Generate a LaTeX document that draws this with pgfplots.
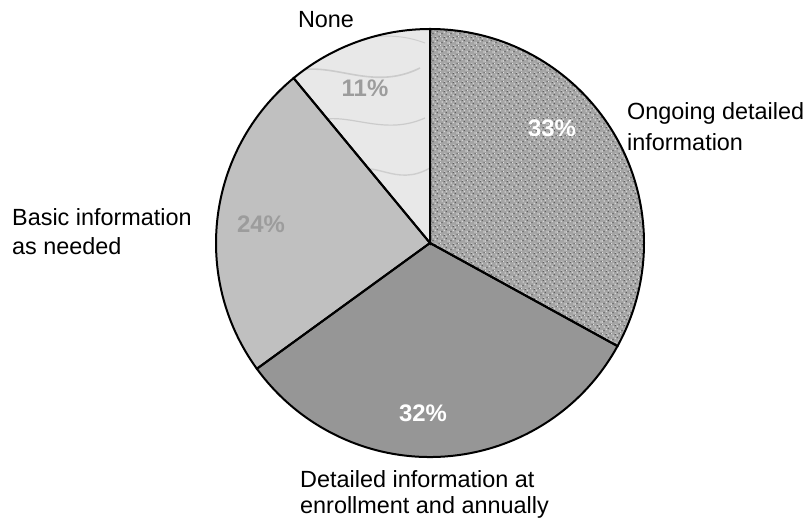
\documentclass[border=0pt]{standalone}
\usepackage{fontspec}
\setmainfont{Liberation Sans}
\usepackage{pgfplots}
\usepackage{pgfplotstable}
\pgfplotsset{compat=1.18}
\usetikzlibrary{patterns}

\definecolor{graniteBase}{HTML}{A4A4A4}
\definecolor{graniteDark}{HTML}{5E5E5E}
\definecolor{graniteLight}{HTML}{D4D4D4}
\definecolor{enrollGray}{HTML}{969696}
\definecolor{basicGray}{HTML}{C0C0C0}
\definecolor{marble}{HTML}{E8E8E8}
\definecolor{marbleVein}{HTML}{C4C4C4}
\definecolor{pctGray}{HTML}{9C9C9C}

% speckled stone texture: dark and light grains on a grey ground
\pgfdeclarepatterninherentlycolored{granite}
{\pgfpointorigin}{\pgfpoint{9bp}{9bp}}
{\pgfpoint{9bp}{9bp}}
{
  \pgfsetfillcolor{graniteDark}
  \pgfpathrectangle{\pgfpoint{0.5bp}{1.0bp}}{\pgfpoint{1.4bp}{1.4bp}}
  \pgfpathrectangle{\pgfpoint{5.2bp}{3.1bp}}{\pgfpoint{1.2bp}{1.2bp}}
  \pgfpathrectangle{\pgfpoint{2.8bp}{6.4bp}}{\pgfpoint{1.4bp}{1.1bp}}
  \pgfpathrectangle{\pgfpoint{7.4bp}{7.6bp}}{\pgfpoint{1.1bp}{1.2bp}}
  \pgfusepath{fill}
  \pgfsetfillcolor{graniteLight}
  \pgfpathrectangle{\pgfpoint{2.9bp}{2.2bp}}{\pgfpoint{1.6bp}{1.4bp}}
  \pgfpathrectangle{\pgfpoint{7.0bp}{0.4bp}}{\pgfpoint{1.4bp}{1.5bp}}
  \pgfpathrectangle{\pgfpoint{0.6bp}{4.8bp}}{\pgfpoint{1.5bp}{1.4bp}}
  \pgfpathrectangle{\pgfpoint{5.3bp}{5.6bp}}{\pgfpoint{1.6bp}{1.5bp}}
  \pgfpathrectangle{\pgfpoint{3.6bp}{8.0bp}}{\pgfpoint{1.3bp}{0.9bp}}
  \pgfusepath{fill}
}

% share of respondents (percent), clockwise from 12 o'clock
\pgfplotstableread{
share
33
32
24
11
}\pietable

\pgfplotstablegetelem{0}{share}\of\pietable \let\sA\pgfplotsretval
\pgfplotstablegetelem{1}{share}\of\pietable \let\sB\pgfplotsretval
\pgfplotstablegetelem{2}{share}\of\pietable \let\sC\pgfplotsretval
\pgfplotstablegetelem{3}{share}\of\pietable \let\sD\pgfplotsretval

\pgfmathsetmacro{\aZ}{90}
\pgfmathsetmacro{\aA}{\aZ-3.6*\sA}
\pgfmathsetmacro{\aB}{\aA-3.6*\sB}
\pgfmathsetmacro{\aC}{\aB-3.6*\sC}
\pgfmathsetmacro{\aD}{\aC-3.6*\sD}
\def\R{214}

% one slice of the pie, radius \R in axis units (1 unit = 1bp)
\newcommand{\pieslice}[3]{%
  \path[#3] (axis cs:0,0) -- (axis cs:{\R*cos(#1)},{\R*sin(#1)})
     arc[start angle=#1, end angle=#2, radius=\R bp] -- cycle;}

\begin{document}
\begin{tikzpicture}
\useasboundingbox (0,0) rectangle (810bp,521bp);
\begin{axis}[
  at={(0,0)}, anchor=south west,
  x=1bp, y=1bp,
  xmin=-430, xmax=380, ymin=-278, ymax=243,
  hide axis, clip=false,
]
\pieslice{\aZ}{\aA}{fill=graniteBase}
\pieslice{\aZ}{\aA}{pattern=granite}
\pieslice{\aA}{\aB}{fill=enrollGray}
\pieslice{\aB}{\aC}{fill=basicGray}
\pieslice{\aC}{\aD}{fill=marble}
% faint veins across the marble slice
\begin{scope}
  \pieslice{\aC}{\aD}{clip}
  \draw[marbleVein, line width=1.6bp, opacity=0.8]
    (axis cs:-140,170) .. controls (axis cs:-100,185) and (axis cs:-60,150) .. (axis cs:-10,175);
  \draw[marbleVein, line width=1.2bp, opacity=0.8]
    (axis cs:-120,120) .. controls (axis cs:-85,135) and (axis cs:-50,105) .. (axis cs:-5,125);
  \draw[marbleVein, line width=1.4bp, opacity=0.7]
    (axis cs:-80,70) .. controls (axis cs:-55,85) and (axis cs:-35,55) .. (axis cs:0,75);
  \draw[marbleVein, line width=1.0bp, opacity=0.7]
    (axis cs:-100,205) .. controls (axis cs:-70,200) and (axis cs:-45,215) .. (axis cs:-5,200);
\end{scope}
\pieslice{\aZ}{\aA}{draw=black, line width=2bp}
\pieslice{\aA}{\aB}{draw=black, line width=2bp}
\pieslice{\aB}{\aC}{draw=black, line width=2bp}
\pieslice{\aC}{\aD}{draw=black, line width=2bp}

% percentages inside the slices
\begin{scope}[every node/.style={font=\bfseries\fontsize{24}{28}\selectfont, inner sep=0pt}]
\node[text=white]   at (axis cs:122,115)  {\sA\%};
\node[text=white]   at (axis cs:-7,-170)  {\sB\%};
\node[text=pctGray] at (axis cs:-169,19)  {\sC\%};
\node[text=pctGray] at (axis cs:-65,155)  {\sD\%};
\end{scope}

% category names around the pie
\begin{scope}[every node/.style={font=\fontsize{23.5}{28}\selectfont, inner sep=0pt}]
\node[anchor=base] at (axis cs:-104,215) {None};
\node[anchor=base west] at (axis cs:197,123) {Ongoing detailed};
\node[anchor=base west] at (axis cs:197,93)  {information};
\node[anchor=base west] at (axis cs:-418,18) {Basic information};
\node[anchor=base west] at (axis cs:-418,-11) {as needed};
\node[anchor=base west] at (axis cs:-130,-244) {Detailed information at};
\node[anchor=base west] at (axis cs:-130,-270) {enrollment and annually};
\end{scope}
\end{axis}
\end{tikzpicture}
\end{document}
